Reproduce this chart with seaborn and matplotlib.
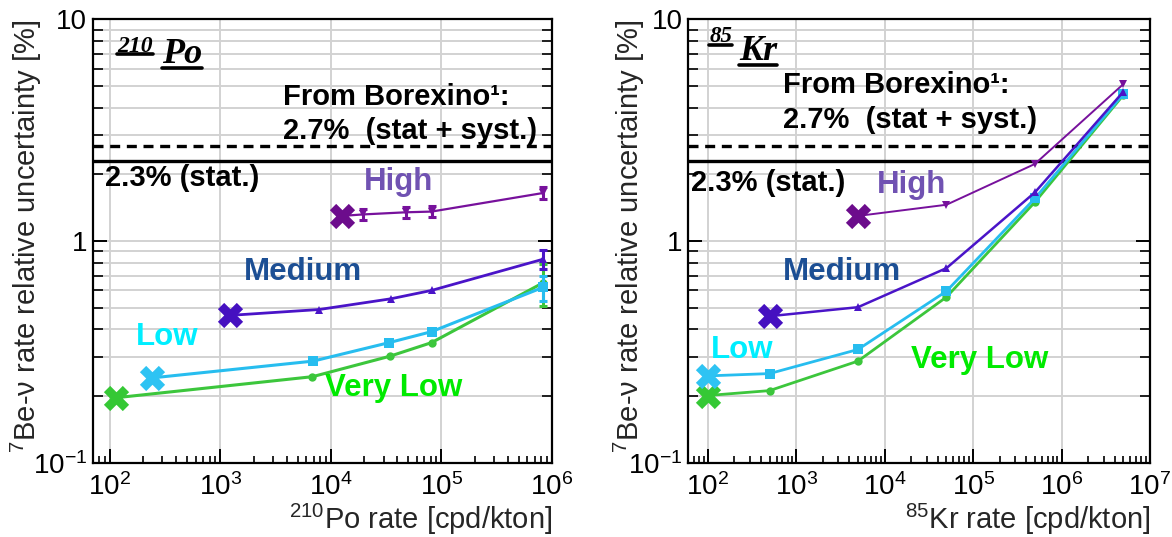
import matplotlib
matplotlib.use("Agg")
import matplotlib.pyplot as plt
from matplotlib.lines import Line2D
from matplotlib.ticker import NullFormatter, LogLocator
import numpy as np
import pandas as pd
import seaborn as sns

# ---- 210Po scan: 7Be-nu rate relative uncertainty [%] vs 210Po rate [cpd/kton]
po_high_x = [12500, 19400, 47700, 81500, 834000]
po_high_y = [1.30, 1.32, 1.35, 1.36, 1.65]
po_high_err = [0.0, 0.08, 0.08, 0.08, 0.10]

po_med_x = [1220, 7830, 34900, 81500, 834000]
po_med_y = [0.463, 0.492, 0.55, 0.60, 0.83]
po_med_err = [0.0, 0.0, 0.0, 0.0, 0.08]

po_low_x = [243, 6920, 33700, 81500, 834000]
po_low_y = [0.242, 0.288, 0.349, 0.391, 0.62]
po_low_err = [0.0, 0.0, 0.0, 0.0, 0.08]

po_vlow_x = [115, 6820, 34200, 81500, 834000]
po_vlow_y = [0.197, 0.245, 0.303, 0.349, 0.65]
po_vlow_err = [0.0, 0.0, 0.0, 0.0, 0.14]

# ---- 85Kr scan
kr_high_x = [5000, 50000, 500000, 5000000]
kr_high_y = [1.30, 1.46, 2.23, 5.11]

kr_med_x = [500, 5000, 50000, 500000, 5000000]
kr_med_y = [0.459, 0.504, 0.756, 1.66, 4.72]

kr_low_x = [100, 500, 5000, 50000, 500000, 5000000]
kr_low_y = [0.247, 0.253, 0.325, 0.595, 1.56, 4.61]

kr_vlow_x = [100, 500, 5000, 50000, 500000, 5000000]
kr_vlow_y = [0.2015, 0.212, 0.288, 0.56, 1.50, 4.56]

# Borexino reference precision [%]
borexino_stat = 2.3
borexino_total = 2.7

scenario_names = ["High", "Medium", "Low", "Very Low"]
y_tick_values = [0.1, 1, 10]
y_tick_labels = [r"$\mathdefault{10^{-1}}$", "1", "10"]

po_xlabel = r"$^{\mathdefault{210}}$Po rate [cpd/kton]"
kr_xlabel = r"$^{\mathdefault{85}}$Kr rate [cpd/kton]"
ylabel = r"$^{\mathdefault{7}}$Be-ν rate relative uncertainty [%]"

# ---- style
sns.set_style("ticks")
plt.rcParams["font.family"] = ["Liberation Sans", "DejaVu Sans"]
plt.rcParams["mathtext.fontset"] = "custom"
plt.rcParams["mathtext.rm"] = "Liberation Sans"
plt.rcParams["mathtext.it"] = "Liberation Sans:italic"
plt.rcParams["mathtext.bf"] = "Liberation Sans:bold"

line_colors = {"High": "#77119c", "Medium": "#4a14c8", "Low": "#27bdef", "Very Low": "#3cc63c"}
cross_colors = {"High": "#6c0c8c", "Medium": "#4510c0", "Low": "#2ec3f3", "Very Low": "#35c835"}
text_colors = {"High": "#7052b2", "Medium": "#1c4f94", "Low": "#00eeff", "Very Low": "#00ea00"}
markers = {"High": "v", "Medium": "^", "Low": "s", "Very Low": "o"}

W, H = 1172, 537
fig = plt.figure(figsize=(W / 100, H / 100), dpi=100)
fig.patch.set_facecolor("white")


def frame(px0, px1, py0=19.4, py1=463):
    return [px0 / W, 1 - py1 / H, (px1 - px0) / W, (py1 - py0) / H]


ax1 = fig.add_axes(frame(92.7, 552))
ax2 = fig.add_axes(frame(688.3, 1150))


def setup(ax, xlim):
    ax.set_xscale("log")
    ax.set_yscale("log")
    ax.set_xlim(*xlim)
    ax.set_ylim(0.1, 10)
    ax.set_facecolor("white")
    ax.grid(False)
    ax.grid(True, which="major", axis="x", color="#d2d2d2", lw=1.4)
    ax.grid(True, which="both", axis="y", color="#d2d2d2", lw=1.4)
    ax.set_axisbelow(True)
    for sp in ax.spines.values():
        sp.set_color("black")
        sp.set_linewidth(1.6)
    ax.axhline(borexino_total, color="black", lw=2.4, ls=(0, (3, 2)), zorder=2)
    ax.axhline(borexino_stat, color="black", lw=2.4, zorder=2)


def finish(ax, xlabel, ylabel_x):
    ax.set_yticks(y_tick_values)
    ax.set_yticklabels(y_tick_labels)
    ax.yaxis.set_minor_locator(LogLocator(base=10, subs=np.arange(2, 10), numticks=20))
    ax.yaxis.set_minor_formatter(NullFormatter())
    ax.xaxis.set_major_locator(LogLocator(base=10, numticks=20))
    ax.xaxis.set_minor_locator(LogLocator(base=10, subs=np.arange(2, 10), numticks=40))
    ax.xaxis.set_minor_formatter(NullFormatter())
    ax.tick_params(which="both", direction="in", top=False, right=True, colors="black")
    ax.tick_params(axis="x", which="major", length=10, width=1.4, labelsize=20, pad=7)
    ax.tick_params(axis="x", which="minor", length=5, width=1.2)
    ax.tick_params(axis="y", which="major", length=10, width=1.4, labelsize=20, pad=4)
    ax.tick_params(axis="y", which="minor", length=7, width=1.2)
    ax.set_xlabel(xlabel, fontsize=21, loc="right")
    ax.xaxis.set_label_coords(1.0, -0.088)
    ax.set_ylabel(ylabel, fontsize=21, loc="top")
    ax.yaxis.set_label_coords(ylabel_x, 1.0)
    leg = ax.get_legend()
    if leg is not None:
        leg.remove()


def draw(ax, name, xs, ys, lw, ms, err=None):
    df = pd.DataFrame({"rate": xs, "unc": ys})
    sns.lineplot(data=df, x="rate", y="unc", ax=ax, color=line_colors[name], lw=lw,
                 marker=markers[name], markersize=ms, markeredgewidth=0,
                 sort=False, estimator=None, errorbar=None, zorder=3)
    if err is not None:
        e = pd.DataFrame({"rate": xs, "unc": ys, "err": err})
        e = e[e["err"] > 0]
        ax.errorbar(e["rate"], e["unc"], yerr=e["err"], fmt="none", ecolor=line_colors[name],
                    elinewidth=2.2, capsize=3, capthick=2.2, zorder=3)
    start = df.iloc[[0]]
    sns.scatterplot(data=start, x="rate", y="unc", ax=ax, marker="X", s=330,
                    color=cross_colors[name], linewidth=0, zorder=4)


setup(ax1, (10 ** 1.846, 1e6))
setup(ax2, (10 ** 1.781, 1e7))

draw(ax1, "Very Low", po_vlow_x, po_vlow_y, 2.2, 6, po_vlow_err)
draw(ax1, "Low", po_low_x, po_low_y, 2.2, 6.5, po_low_err)
draw(ax1, "Medium", po_med_x, po_med_y, 2.0, 6, po_med_err)
draw(ax1, "High", po_high_x, po_high_y, 1.6, 6, po_high_err)

draw(ax2, "Very Low", kr_vlow_x, kr_vlow_y, 2.0, 6)
draw(ax2, "Low", kr_low_x, kr_low_y, 2.0, 6.5)
draw(ax2, "Medium", kr_med_x, kr_med_y, 1.8, 6)
draw(ax2, "High", kr_high_x, kr_high_y, 1.4, 6)

finish(ax1, po_xlabel, -0.106)
finish(ax2, kr_xlabel, -0.089)

# ---- annotations
bold = dict(fontweight="bold", fontsize=21, color="black", ha="left", va="center")
label_kw = dict(fontweight="bold", fontsize=22.5, ha="left", va="center")

ax1.text(0.4136, 0.8251, "From Borexino¹:", transform=ax1.transAxes, **bold)
ax1.text(0.4136, 0.7478, "2.7%  (stat + syst.)", transform=ax1.transAxes, **bold)
ax1.text(0.0268, 0.6418, "2.3% (stat.)", transform=ax1.transAxes, **bold)
ax2.text(0.2051, 0.852, "From Borexino¹:", transform=ax2.transAxes, **bold)
ax2.text(0.2051, 0.7732, "2.7%  (stat + syst.)", transform=ax2.transAxes, **bold)
ax2.text(0.0058, 0.6312, "2.3% (stat.)", transform=ax2.transAxes, **bold)

po_label_pos = {"High": (0.5907, 0.6334), "Medium": (0.3294, 0.4313), "Low": (0.0943, 0.2847), "Very Low": (0.5058, 0.1691)}
kr_label_pos = {"High": (0.4085, 0.6267), "Medium": (0.2051, 0.4313), "Low": (0.0492, 0.2547), "Very Low": (0.4822, 0.2322)}
for name in scenario_names:
    ax1.text(*po_label_pos[name], name, transform=ax1.transAxes, color=text_colors[name], **label_kw)
    ax2.text(*kr_label_pos[name], name, transform=ax2.transAxes, color=text_colors[name], **label_kw)

# isotope tags: bold italic serif, each part underlined
serif = dict(family=["Liberation Serif", "DejaVu Serif"], fontweight="bold", fontstyle="italic",
             color="black", ha="left", va="baseline")
tags = [
    (ax1, 0.0533, 0.9276, "210", 17, 2.5),
    (ax1, 0.150, 0.9024, "Po", 26, 5.0),
    (ax2, 0.0454, 0.949, "85", 16.5, 2.5),
    (ax2, 0.1095, 0.9085, "Kr", 26, 5.0),
]
tag_texts = []
for ax, x, y, s, size, drop in tags:
    t = ax.text(x, y, s, transform=ax.transAxes, fontsize=size, **serif)
    tag_texts.append((ax, x, y, t, drop))

fig.canvas.draw()
renderer = fig.canvas.get_renderer()
inv = fig.transFigure.inverted()
for ax, x, y, t, drop in tag_texts:
    bb = t.get_window_extent(renderer)
    base = ax.transAxes.transform((x, y))[1] - drop
    (fx0, fy), (fx1, _) = inv.transform([(bb.x0, base), (bb.x1, base)])
    fig.add_artist(Line2D([fx0, fx1], [fy, fy], color="black", lw=2.6, transform=fig.transFigure))

fig.savefig("out.png", dpi=100, facecolor="white")
